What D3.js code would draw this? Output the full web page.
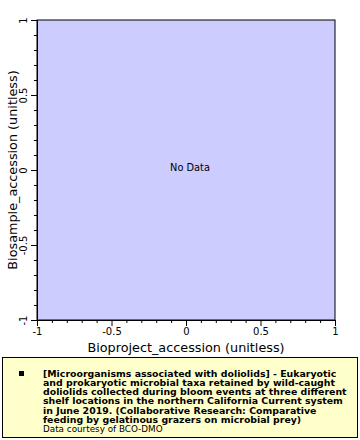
<!DOCTYPE html>
<html><head><meta charset="utf-8">
<script src="https://cdn.jsdelivr.net/npm/d3@7"></script>
<style>body{margin:0;background:#fff}svg{display:block}</style>
</head><body>
<script>
const xDomain = [-1, 1];
const yDomain = [-1, 1];
const majorTicks = [-1, -0.5, 0, 0.5, 1];
const tickLabels = ["-1", "-0.5", "0", "0.5", "1"];
const minorTicks = [-0.9,-0.8,-0.7,-0.6,-0.4,-0.3,-0.2,-0.1,0.1,0.2,0.3,0.4,0.6,0.7,0.8,0.9];
const xTitle = "Bioproject_accession (unitless)";
const yTitle = "Biosample_accession (unitless)";
const legendLines = [
 "[Microorganisms associated with doliolids] - Eukaryotic",
 "and prokaryotic microbial taxa retained by wild-caught",
 "doliolids collected during bloom events at three different",
 "shelf locations in the northern California Current system",
 "in June 2019. (Collaborative Research: Comparative",
 "feeding by gelatinous grazers on microbial prey)"
];
const courtesy = "Data courtesy of BCO-DMO";

const W = 360, H = 440;
const L = 37, R = 335, T = 20, B = 320;
const svg = d3.select("body").append("svg").attr("width", W).attr("height", H);
const font = "DejaVu Sans, sans-serif";
const x = d3.scaleLinear().domain(xDomain).range([L, R]);
const y = d3.scaleLinear().domain(yDomain).range([B, T]);

svg.append("rect").attr("x", L).attr("y", T).attr("width", R - L).attr("height", B - T)
  .attr("fill", "#ccccff").attr("stroke", "#000").attr("stroke-width", 1);

// X axis
const xg = svg.append("g").attr("transform", `translate(0,${B})`);
xg.call(d3.axisBottom(x).tickValues(minorTicks).tickSize(3).tickFormat(""));
const xg2 = svg.append("g").attr("transform", `translate(0,${B})`);
xg2.call(d3.axisBottom(x).tickValues(majorTicks).tickSize(6).tickPadding(2)
  .tickFormat((d, i) => tickLabels[i]));
[xg, xg2].forEach(g => { g.select(".domain").attr("stroke", "#000"); g.selectAll("line").attr("stroke", "#000"); });
xg2.selectAll("text").attr("font-family", font).attr("font-size", 10).attr("fill", "#000");

// Y axis
const yg = svg.append("g").attr("transform", `translate(${L},0)`);
yg.call(d3.axisLeft(y).tickValues(minorTicks).tickSize(3).tickFormat(""));
const yg2 = svg.append("g").attr("transform", `translate(${L},0)`);
yg2.call(d3.axisLeft(y).tickValues(majorTicks).tickSize(6).tickFormat((d, i) => tickLabels[i]));
[yg, yg2].forEach(g => { g.select(".domain").attr("stroke", "#000"); g.selectAll("line").attr("stroke", "#000"); });
yg2.selectAll("text").attr("font-family", font).attr("font-size", 10).attr("fill", "#000")
  .attr("text-anchor", "middle").attr("x", null).attr("dy", null)
  .attr("transform", "translate(-10,0) rotate(-90)").attr("y", 0);

svg.append("text").attr("x", (L + R) / 2).attr("y", B + 32).attr("text-anchor", "middle")
  .attr("font-family", font).attr("font-size", 12.8).text(xTitle);
svg.append("text").attr("transform", `translate(16.5,${(T + B) / 2}) rotate(-90)`).attr("text-anchor", "middle")
  .attr("font-family", font).attr("font-size", 12.8).text(yTitle);

svg.append("text").attr("x", 190).attr("y", y(0)+1).attr("text-anchor", "middle")
  .attr("font-family", font).attr("font-size", 9.8).text("No Data");

// Legend
svg.append("rect").attr("x", 2.5).attr("y", 357.5).attr("width", 355).attr("height", 80)
  .attr("fill", "#ffffcc").attr("stroke", "#000").attr("stroke-width", 1);
svg.append("rect").attr("x", 19).attr("y", 371).attr("width", 5).attr("height", 5).attr("fill", "#000");
const lt = svg.append("text").attr("font-family", font).attr("font-size", 9.4).attr("x", 43).attr("y", 376.5);
legendLines.forEach((s, i) => {
  lt.append("tspan").attr("x", 43).attr("y", 376.5 + i * 9.33).attr("font-weight", "bold").text(s);
});
lt.append("tspan").attr("x", 43).attr("y", 376.5 + 6 * 9.33).attr("font-size", 8.8).text(courtesy);
</script>
</body></html>
